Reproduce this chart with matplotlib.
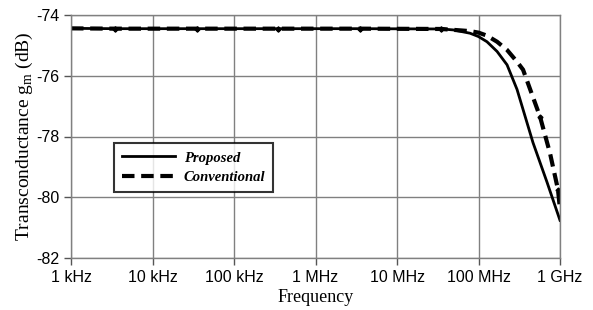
import matplotlib
matplotlib.use("Agg")
import matplotlib.pyplot as plt

# frequency (Hz) and transconductance (dB)
freq_prop = [1e3, 3.5e3, 3.5e4, 3.5e5, 3.5e6, 3.5e7, 4.87e7, 7.87e7, 1e8, 1.27e8,
             1.69e8, 2.24e8, 2.97e8, 4.66e8, 6.92e8, 1e9]
gm_prop = [-74.44, -74.45, -74.45, -74.45, -74.45, -74.46, -74.49, -74.6, -74.71,
           -74.88, -75.2, -75.64, -76.45, -78.2, -79.5, -80.76]

freq_conv = [1e3, 3.5e3, 3.5e4, 3.5e5, 3.5e6, 3.5e7, 7.87e7, 1e8, 1.27e8, 1.69e8,
             2.24e8, 2.97e8, 3.52e8, 5.69e8, 7.54e8, 9.45e8, 1e9]
gm_conv = [-74.44, -74.45, -74.45, -74.45, -74.45, -74.46, -74.53, -74.58, -74.68,
           -74.88, -75.15, -75.54, -75.8, -77.35, -78.55, -79.75, -80.4]

tick_freqs = [1e3, 1e4, 1e5, 1e6, 1e7, 1e8, 1e9]
tick_labels = ["1 kHz", "10 kHz", "100 kHz", "1 MHz", "10 MHz", "100 MHz", "1 GHz"]
y_ticks = [-82, -80, -78, -76, -74]

fig = plt.figure(figsize=(5.93, 3.10), dpi=100)
ax = fig.add_axes([71 / 593, 1 - 258 / 310, 489 / 593, 243 / 310])

ax.plot(freq_prop, gm_prop, color="black", lw=2.0, marker="D", ms=2.5,
        markevery=[1, 2, 3, 4, 5], label="Proposed")
ax.plot(freq_conv, gm_conv, color="black", lw=3.0, dashes=(3, 1.6),
        marker="D", ms=2.5, markevery=[1, 2, 3, 4, 5, 13, 15], label="Conventional")

ax.set_xscale("log")
ax.set_xlim(1e3, 1e9)
ax.set_ylim(-82, -74)
ax.set_xticks(tick_freqs)
ax.set_xticklabels(tick_labels)
ax.minorticks_off()
ax.set_yticks(y_ticks)
ax.set_yticklabels([str(v) for v in y_ticks])
ax.tick_params(labelsize=11.5, length=5, width=1, color="#555555", direction="out")
for lab in ax.get_xticklabels() + ax.get_yticklabels():
    lab.set_family("Liberation Sans")

ax.grid(True, color="#808080", lw=1)
for s in ax.spines.values():
    s.set_color("#808080")
    s.set_linewidth(1)

ax.set_xlabel("Frequency", family="Liberation Serif", fontsize=13, labelpad=3)
ax.set_ylabel("Transconductance g$_\\mathregular{m}$ (dB)", family="Liberation Serif",
              fontsize=14, labelpad=1)

leg = ax.legend(loc="upper left", bbox_to_anchor=(36 / 489, 122 / 243), frameon=True,
                fancybox=False, edgecolor="black", handlelength=3.6,
                handletextpad=0.6,
                prop={"family": "Liberation Serif", "weight": "bold",
                      "style": "italic", "size": 10.5},
                borderpad=0.55, labelspacing=0.45)
leg.get_frame().set_linewidth(1.5)
for h in leg.get_lines():
    h.set_marker("")

fig.savefig("out.png", dpi=100)
